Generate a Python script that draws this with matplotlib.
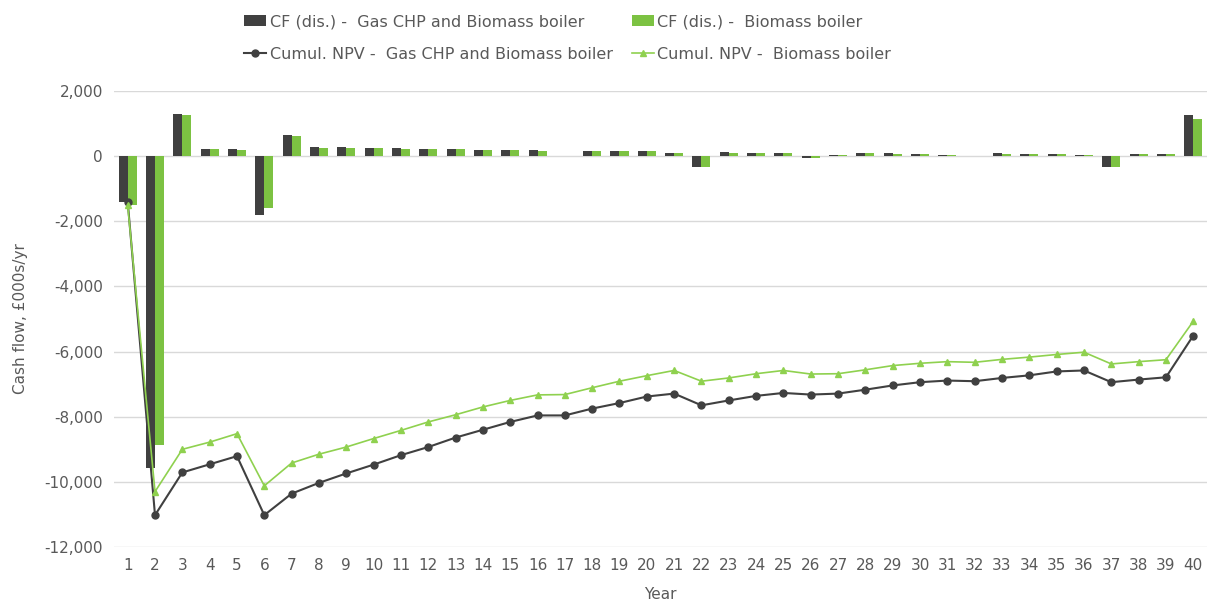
import numpy as np
import matplotlib.pyplot as plt

plt.rcParams['font.family'] = ['Liberation Sans Narrow', 'DejaVu Sans']

years = np.arange(1, 41)

# discounted cash flow per year, £000s
cf_chp = [-1400, -9580, 1290, 220, 210, -1800, 660, 280, 270, 260,
          260, 230, 230, 200, 200, 190, 0, 170, 170, 160,
          100, -330, 110, 100, 90, -60, 20, 90, 80, 70,
          30, 0, 80, 60, 60, 40, -350, 60, 50, 1270]
cf_bio = [-1500, -8880, 1250, 210, 200, -1580, 610, 250, 240, 240,
          230, 210, 210, 190, 190, 170, 0, 160, 160, 150,
          90, -330, 100, 90, 80, -60, 20, 80, 70, 60,
          30, 0, 70, 60, 50, 40, -350, 50, 50, 1140]

# cumulative NPV, £000s
npv_chp = [-1400, -11020, -9710, -9460, -9210, -11020, -10360, -10030, -9740, -9470,
           -9180, -8930, -8640, -8400, -8160, -7960, -7960, -7750, -7580, -7380,
           -7290, -7650, -7500, -7360, -7270, -7320, -7290, -7170, -7040, -6940,
           -6890, -6910, -6810, -6730, -6610, -6580, -6940, -6860, -6790, -5510]
npv_bio = [-1500, -10300, -9000, -8780, -8520, -10120, -9420, -9150, -8930, -8670,
           -8420, -8160, -7940, -7700, -7500, -7330, -7320, -7110, -6910, -6740,
           -6580, -6910, -6810, -6680, -6580, -6690, -6680, -6560, -6430, -6360,
           -6310, -6330, -6240, -6170, -6090, -6020, -6380, -6310, -6250, -5070]

dark = '#404040'
green = '#7cc242'
text_col = '#595959'

fig = plt.figure(figsize=(12.13, 6.14), dpi=100)
ax = fig.add_axes([0.094, 0.109, 0.901, 0.743])

w = 0.33
b1 = ax.bar(years - w / 2, cf_chp, width=w, color=dark, zorder=2,
            label='CF (dis.) -  Gas CHP and Biomass boiler')
b2 = ax.bar(years + w / 2, cf_bio, width=w, color=green, zorder=2,
            label='CF (dis.) -  Biomass boiler')
l1, = ax.plot(years, npv_chp, color=dark, lw=1.5, marker='o', ms=5, zorder=3,
              label='Cumul. NPV -  Gas CHP and Biomass boiler')
l2, = ax.plot(years, npv_bio, color='#8fd14f', lw=1.2, marker='^', ms=4.5, zorder=3,
              label='Cumul. NPV -  Biomass boiler')

ax.set_xlim(0.5, 40.5)
ax.set_ylim(-12000, 2000)
ax.set_yticks(np.arange(-12000, 2001, 2000))
ax.yaxis.set_major_formatter(plt.FuncFormatter(lambda v, p: f'{int(v):,}'))
ax.set_xticks(years)
ax.grid(axis='y', color='#d9d9d9', lw=1, zorder=0)
for s in ax.spines.values():
    s.set_visible(False)
ax.tick_params(length=0, labelsize=11, colors=text_col, pad=8)

ax.set_xlabel('Year', fontsize=11, color=text_col, labelpad=10)
ax.set_ylabel('Cash flow, £000s/yr', fontsize=11, color=text_col, labelpad=12)

fig.legend([b1, l1, b2, l2],
           [b1.get_label(), l1.get_label(), b2.get_label(), l2.get_label()],
           ncol=2, loc='center', bbox_to_anchor=(0.468, 0.938), frameon=False,
           fontsize=11.5, labelcolor=text_col, handlelength=1.4, handletextpad=0.2,
           columnspacing=1.2, labelspacing=1.1)

fig.savefig('out.png', dpi=100)
